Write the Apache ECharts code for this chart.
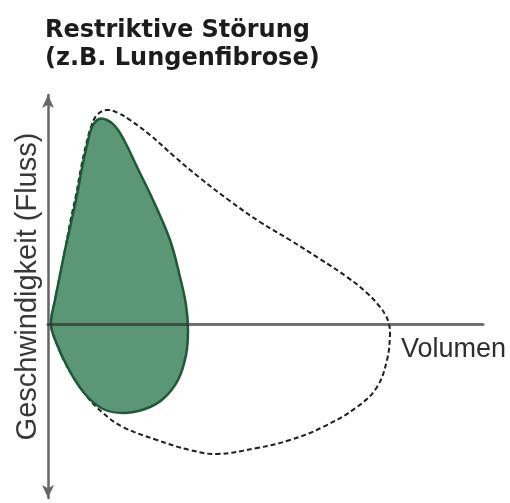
<!DOCTYPE html>
<html>
<head>
<meta charset="utf-8">
<script src="https://cdn.jsdelivr.net/npm/echarts@6/dist/echarts.min.js"></script>
<style>
  html, body { margin: 0; padding: 0; background: #fff; }
  #chart { width: 510px; height: 503px; }
</style>
</head>
<body>
<div id="chart"></div>
<script>
// restriktive Schleife (gefüllt)
const restrVol = [0.06, 0.14, 0.24, 0.34, 0.46, 0.58, 0.68, 0.78, 0.88, 1.02, 1.18, 1.34, 1.52, 1.78, 2.10, 2.44, 2.64, 2.76,
  2.80, 2.76, 2.60, 2.30, 1.94, 1.50, 1.10, 0.74, 0.40, 0.16]
const restrFlow = [0, 0.48, 0.98, 1.48, 2.02, 2.58, 3.12, 3.58, 3.94, 4.10, 4.08, 3.96, 3.68, 3.14, 2.48, 1.68, 0.94, 0.38,
  -0.12, -0.62, -1.12, -1.50, -1.70, -1.78, -1.70, -1.40, -0.88, -0.36]

// normale Schleife (gestrichelt)
const normVol = [0.06, 0.14, 0.24, 0.34, 0.44, 0.56, 0.66, 0.76, 0.86, 0.98, 1.18, 1.40, 1.64, 2.04, 2.54, 3.04, 3.64, 4.24,
  4.84, 5.44, 5.98, 6.38, 6.64, 6.76, 6.82, 6.84, 6.78, 6.58, 6.18, 5.50, 4.84, 4.18, 3.38, 2.84, 2.18, 1.50, 1.10, 0.74, 0.40, 0.16]
const normFlow = [0, 0.48, 0.98, 1.48, 2.02, 2.58, 3.12, 3.58, 3.94, 4.18, 4.28, 4.22, 4.08, 3.78, 3.34, 2.92, 2.46, 2.04,
  1.68, 1.30, 0.94, 0.62, 0.34, 0.16, 0, -0.22, -0.72, -1.26, -1.66, -2.06, -2.32, -2.48, -2.60, -2.52, -2.32, -2.06, -1.78, -1.40, -0.88, -0.36]

const restrPoints = restrVol.map((v, i) => [v, restrFlow[i]])
const normPoints = normVol.map((v, i) => [v, normFlow[i]])

const chart = echarts.init(document.getElementById('chart'))

// geschlossene Kurve durch alle Punkte zeichnen
const loopRenderer = (points, style) => (params, api) => {
  if (params.dataIndex !== 0) return
  return {
    type: 'polygon',
    shape: { points: points.map(p => api.coord(p)), smooth: 0.4 },
    style: style
  }
}

const option = {
  backgroundColor: '#fff',
  animation: false,
  title: {
    text: 'Restriktive Störung\n(z.B. Lungenfibrose)',
    left: 40,
    top: 12,
    textStyle: {
      fontFamily: 'DejaVu Sans',
      fontWeight: 'bold',
      fontSize: 24,
      lineHeight: 28,
      color: '#1c1c1c'
    }
  },
  grid: { left: 48, top: 95, width: 435, height: 403 },
  xAxis: {
    type: 'value',
    min: 0,
    max: 8.7,
    z: 5,
    axisLine: { onZero: true, lineStyle: { color: 'rgba(45,45,45,0.68)', width: 3 } },
    axisTick: { show: false },
    axisLabel: { show: false },
    splitLine: { show: false }
  },
  yAxis: {
    type: 'value',
    min: -3.48,
    max: 4.58,
    name: 'Geschwindigkeit (Fluss)',
    nameLocation: 'middle',
    nameRotate: 90,
    nameGap: 6,
    nameTextStyle: { fontFamily: 'Liberation Sans', fontSize: 29, color: '#383838', padding: [0, 0, 0, 20] },
    axisLine: {
      lineStyle: { color: '#666', width: 2.5 },
      symbol: ['arrow', 'arrow'],
      symbolSize: [9, 13]
    },
    axisTick: { show: false },
    axisLabel: { show: false },
    splitLine: { show: false }
  },
  graphic: [{
    type: 'text',
    left: 401,
    top: 336,
    style: { text: 'Volumen', font: '27px "Liberation Sans"', fill: '#2e2e2e' }
  }],
  series: [
    {
      name: 'normal',
      type: 'custom',
      data: normPoints,
      z: 1,
      renderItem: loopRenderer(normPoints, { fill: 'none', stroke: '#1e1e1e', lineWidth: 2, lineDash: [5, 3] })
    },
    {
      name: 'restriktiv',
      type: 'custom',
      data: restrPoints,
      z: 3,
      renderItem: loopRenderer(restrPoints, { fill: '#5b9677', stroke: '#1d5a35', lineWidth: 2.5 })
    }
  ]
}

chart.setOption(option)
</script>
</body>
</html>
